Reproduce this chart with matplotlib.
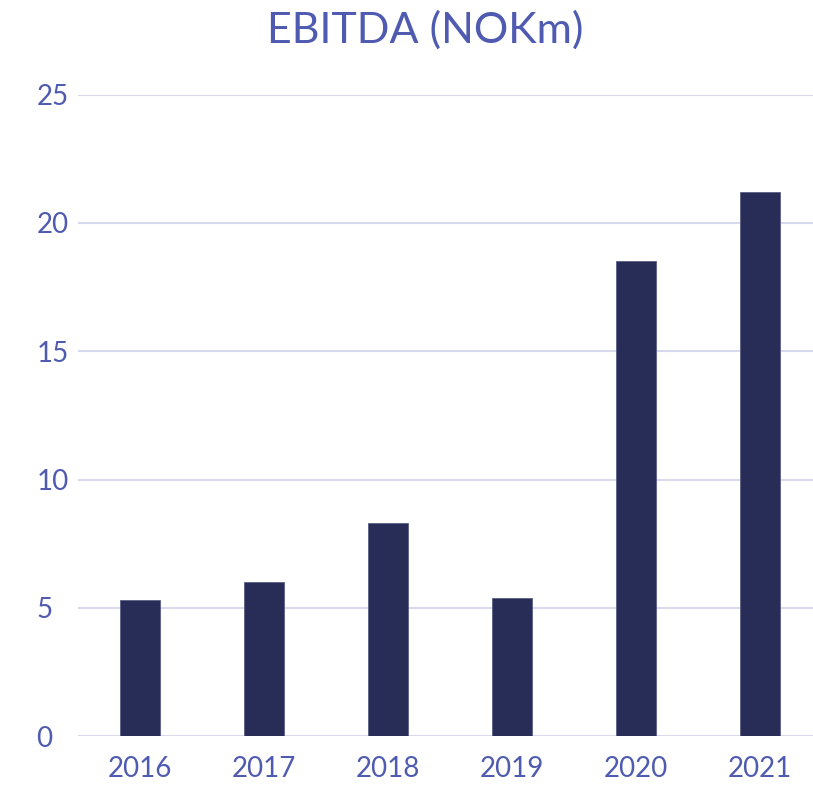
import matplotlib
matplotlib.use("Agg")
import matplotlib.pyplot as plt

years = ['2016', '2017', '2018', '2019', '2020', '2021']
ebitda = [5.3, 6.0, 8.3, 5.4, 18.5, 21.2]
yticks = [0, 5, 10, 15, 20, 25]

txt_col = '#4f5bb0'
bar_col = '#282d58'
grid_col = '#d9d9ee'

plt.rcParams['font.family'] = ['Lato', 'DejaVu Sans']

fig = plt.figure(figsize=(8.13, 7.89), dpi=100)
ax = fig.add_axes([0.096, 0.067, 0.915, 0.813])

x = list(range(len(years)))
ax.bar(x, ebitda, width=0.32, color=bar_col, edgecolor='#5a5f85', linewidth=0.6, zorder=3)

ax.set_xlim(-0.5, len(years) - 0.5)
ax.set_ylim(0, 25)
ax.set_yticks(yticks)
ax.set_xticks(x)
ax.set_xticklabels(years)

ax.grid(axis='y', color=grid_col, linewidth=1.5, zorder=0)
for s in ax.spines.values():
    s.set_visible(False)
ax.tick_params(axis='both', length=0, labelsize=20, labelcolor=txt_col)
ax.tick_params(axis='x', pad=14)
ax.tick_params(axis='y', pad=30)
for lbl in ax.get_yticklabels():
    lbl.set_horizontalalignment('left')

fig.text(0.523, 0.962, 'EBITDA (NOKm)', ha='center', va='center', fontsize=31, color=txt_col)

fig.savefig('out.png', dpi=100)
